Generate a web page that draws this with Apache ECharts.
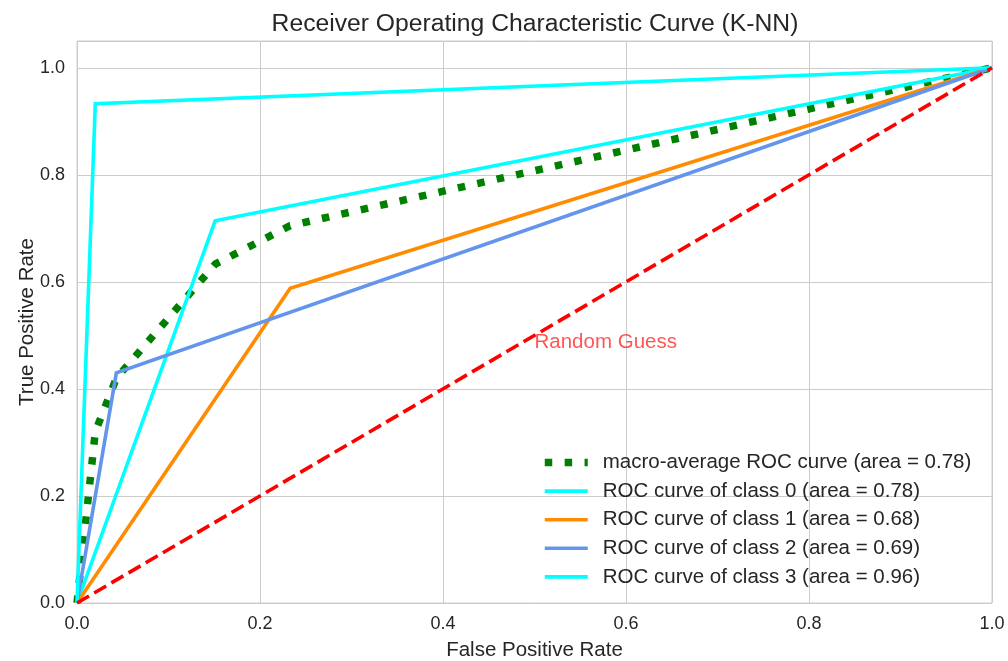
<!DOCTYPE html>
<html>
<head>
<meta charset="utf-8">
<script src="https://cdn.jsdelivr.net/npm/echarts@6/dist/echarts.min.js"></script>
<style>
html,body{margin:0;padding:0;background:#fff;}
#chart{width:1008px;height:661px;}
</style>
</head>
<body>
<div id="chart"></div>
<script>
// ---- data ----
const titleText = 'Receiver Operating Characteristic Curve (K-NN)';
const xTicks = [0.0, 0.2, 0.4, 0.6, 0.8, 1.0];
const yTicks = [0.0, 0.2, 0.4, 0.6, 0.8, 1.0];

const macroFpr = [0, 0.02, 0.043, 0.151, 0.233, 1];
const macroTpr = [0, 0.32, 0.42, 0.633, 0.705, 1];

const class0Fpr = [0, 0.151, 1];
const class0Tpr = [0, 0.714, 1];

const class1Fpr = [0, 0.233, 1];
const class1Tpr = [0, 0.588, 1];

const class2Fpr = [0, 0.043, 1];
const class2Tpr = [0, 0.43, 1];

const class3Fpr = [0, 0.02, 1];
const class3Tpr = [0, 0.933, 1];

const guessX = [0, 1];
const guessY = [0, 1];
const guessLabelPos = [0.5, 0.487];

const names = [
  'macro-average ROC curve (area = 0.78)',
  'ROC curve of class 0 (area = 0.78)',
  'ROC curve of class 1 (area = 0.68)',
  'ROC curve of class 2 (area = 0.69)',
  'ROC curve of class 3 (area = 0.96)'
];

// ---- chart ----
const pairs = (xs, ys) => xs.map((x, i) => [x, ys[i]]);
const FONT = "'Liberation Sans', Arial, sans-serif";
const TXT = '#262626';
const GRID = '#cccccc';

const chart = echarts.init(document.getElementById('chart'), null, {renderer: 'canvas'});

const solid = (name, color, xs, ys) => ({
  name, type: 'line', data: pairs(xs, ys), showSymbol: false, symbol: 'none',
  lineStyle: {color, width: 3.6, cap: 'butt', join: 'miter'},
  itemStyle: {color}
});

const hideSym = {opacity: 0, borderWidth: 0};

chart.setOption({
  backgroundColor: '#ffffff',
  animation: false,
  textStyle: {fontFamily: FONT, color: TXT},
  title: {
    text: titleText,
    left: 530, top: 7, textAlign: 'center',
    textStyle: {fontFamily: FONT, fontSize: 24.7, fontWeight: 'normal', color: TXT}
  },
  grid: {
    left: 77, right: 16, top: 41, bottom: 58,
    outerBoundsMode: 'none', containLabel: false,
    show: true, borderColor: GRID, borderWidth: 1, backgroundColor: '#fff'
  },
  xAxis: {
    type: 'value', min: xTicks[0], max: xTicks[xTicks.length - 1], interval: 0.2,
    name: 'False Positive Rate', nameLocation: 'middle', nameGap: 47, nameMoveOverlap: false,
    nameTextStyle: {fontFamily: FONT, fontSize: 20.5, color: TXT, verticalAlign: 'middle'},
    axisLine: {show: false}, axisTick: {show: false},
    axisLabel: {fontFamily: FONT, fontSize: 18, color: TXT, margin: 12,
      formatter: v => v.toFixed(1)},
    splitLine: {show: true, lineStyle: {color: GRID, width: 1}}
  },
  yAxis: {
    type: 'value', min: yTicks[0], max: 1.05, interval: 0.2,
    name: 'True Positive Rate', nameLocation: 'middle', nameGap: 50, nameMoveOverlap: false,
    nameTextStyle: {fontFamily: FONT, fontSize: 20.5, color: TXT, verticalAlign: 'middle'},
    axisLine: {show: false}, axisTick: {show: false},
    axisLabel: {fontFamily: FONT, fontSize: 18, color: TXT, margin: 12, showMaxLabel: false,
      formatter: v => (yTicks.some(t => Math.abs(t - v) < 1e-9) ? v.toFixed(1) : '')},
    splitLine: {show: true, lineStyle: {color: GRID, width: 1}}
  },
  legend: {
    orient: 'vertical', left: 541, top: 452, padding: 0,
    itemWidth: 43, itemHeight: 14, itemGap: 7.6,
    textStyle: {fontFamily: FONT, fontSize: 20.5, color: TXT, lineHeight: 21, padding: [0, 0, 0, 10]},
    selectedMode: false,
    itemStyle: hideSym,
    data: [
      {name: names[0], lineStyle: {width: 7.5, dashOffset: 0}, itemStyle: hideSym},
      {name: names[1], lineStyle: {width: 3.6}, itemStyle: hideSym},
      {name: names[2], lineStyle: {width: 3.6}, itemStyle: hideSym},
      {name: names[3], lineStyle: {width: 3.6}, itemStyle: hideSym},
      {name: names[4], lineStyle: {width: 3.6}, itemStyle: hideSym}
    ]
  },
  series: [
    {
      name: names[0], type: 'line', data: pairs(macroFpr, macroTpr),
      showSymbol: false, symbol: 'none',
      lineStyle: {color: '#008000', width: 7.5, type: [7.5, 12.4], cap: 'butt'},
      itemStyle: {color: '#008000'}
    },
    solid(names[1], '#00ffff', class0Fpr, class0Tpr),
    solid(names[2], '#ff8c00', class1Fpr, class1Tpr),
    solid(names[3], '#6495ed', class2Fpr, class2Tpr),
    solid(names[4], '#00ffff', class3Fpr, class3Tpr),
    {
      name: 'Random Guess line', type: 'line', data: pairs(guessX, guessY),
      showSymbol: false, symbol: 'none',
      lineStyle: {color: '#ff0000', width: 3.6, type: [13.9, 6], cap: 'butt'}
    },
    {
      name: 'Random Guess', type: 'scatter', data: [guessLabelPos],
      symbolSize: 0, silent: true,
      label: {show: true, position: 'right', distance: 0, formatter: 'Random Guess',
        fontFamily: FONT, fontSize: 20.5, color: '#ff2a2a'}
    }
  ]
});
</script>
</body>
</html>
